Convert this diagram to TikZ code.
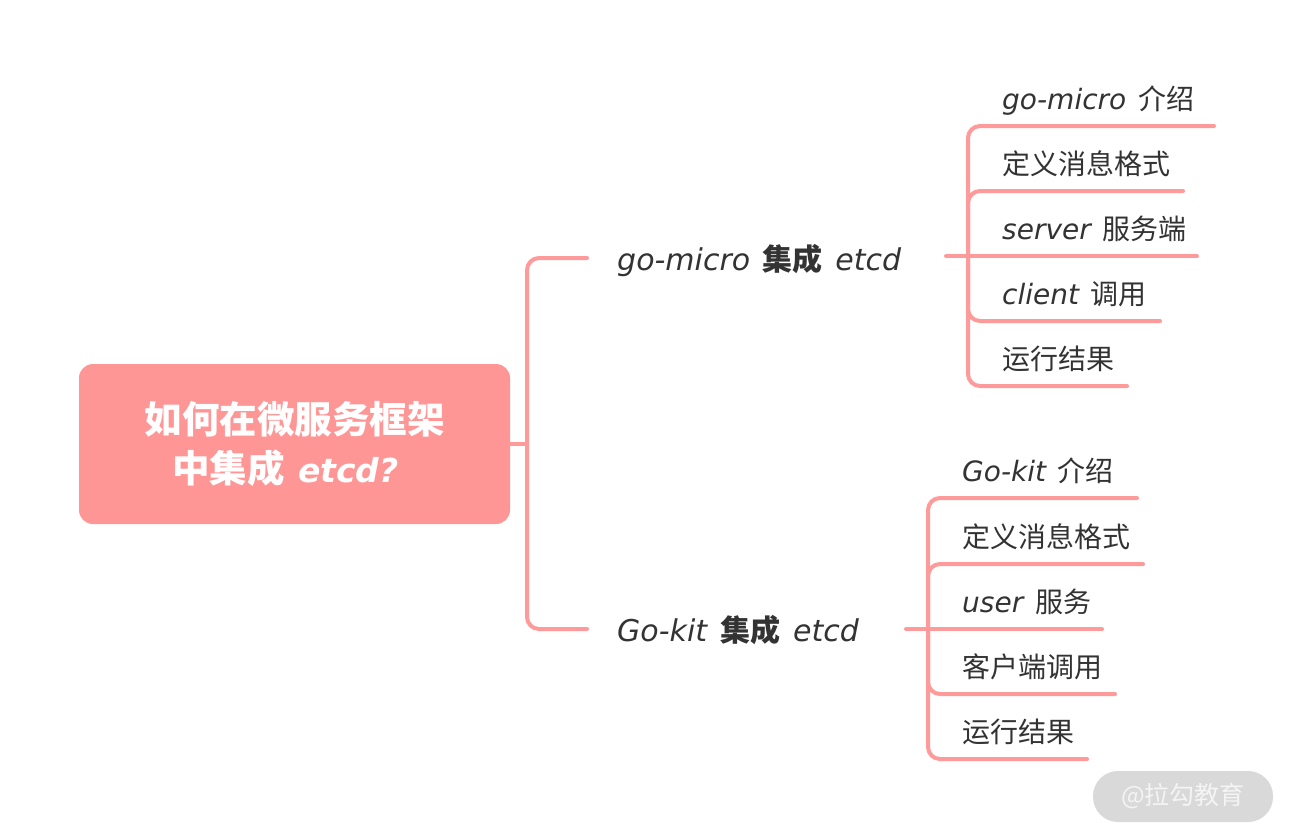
\documentclass[tikz,border=0pt]{standalone}
\usepackage{fontspec}
\setmainfont{Noto Sans CJK SC}
\newfontfamily\handfont{DejaVu Sans}
\newcommand{\la}[1]{{\handfont\itshape #1}}
\newcommand{\gap}{\hspace{0.42em}}
\definecolor{linec}{HTML}{FF9A9A}
\definecolor{rootc}{HTML}{FF9696}
\definecolor{txt}{HTML}{333333}
\definecolor{wmc}{HTML}{D9D9D9}
\definecolor{wmtext}{HTML}{F4F4F4}
\tikzset{
  conn/.style={draw=linec, line width=4pt, line cap=round, rounded corners=12pt},
  rootbox/.style={rectangle, rounded corners=14pt, fill=rootc, minimum width=431pt,
    minimum height=160pt, text=white, align=center, inner sep=0pt,
    font=\bfseries\fontsize{37.5}{49}\selectfont},
  branch/.style={anchor=base west, inner sep=0pt, text=txt, font=\fontsize{30}{36}\selectfont},
  leaf/.style={anchor=base west, inner sep=0pt, text=txt, font=\fontsize{28}{32}\selectfont},
  wmark/.style={rectangle, rounded corners=25pt, fill=wmc, minimum width=180pt,
    minimum height=51pt, inner sep=0pt, text=wmtext, font=\fontsize{25}{30}\selectfont}
}
\begin{document}
\begin{tikzpicture}[x=1pt,y=-1pt]
\useasboundingbox[fill=white] (0,0) rectangle (1292,839);

% root
\node[rootbox] (root) at (294.5,444) {如何在微服务框架\\中集成\hspace{0.35em}{\fontsize{33}{49}\selectfont\la{etcd?}}\hspace*{18pt}};

% main branches
\coordinate (j0) at (527,444);
\coordinate (b1s) at (587,258);
\coordinate (b2s) at (587,629);
\node[branch] (b1) at (617,270) {\la{go-micro}\gap\textbf{集成}\gap\la{etcd}};
\node[branch] (b2) at (617,641) {\la{Go-kit}\gap\textbf{集成}\gap\la{etcd}};
\draw[conn] (root.east) -- (j0);
\draw[conn] (j0) |- (b1s);
\draw[conn] (j0) |- (b2s);

% branch 1 leaves
\coordinate (b1e) at (946,256);
\coordinate (v1) at (968,256);
\coordinate (u11) at (1214,126);
\coordinate (u12) at (1183,191);
\coordinate (u13) at (1197,256);
\coordinate (u14) at (1160,321);
\coordinate (u15) at (1127,386);
\draw[conn] (b1e) -- (u13);
\draw[conn] (v1) |- (u11);
\draw[conn] (v1) |- (u12);
\draw[conn] (v1) |- (u14);
\draw[conn] (v1) |- (u15);
\node[leaf] (l11) at (1002,109) {\la{go-micro}\gap 介绍};
\node[leaf] (l12) at (1002,174) {定义消息格式};
\node[leaf] (l13) at (1002,239) {\la{server}\gap 服务端};
\node[leaf] (l14) at (1002,304) {\la{client}\gap 调用};
\node[leaf] (l15) at (1002,369) {运行结果};

% branch 2 leaves
\coordinate (b2e) at (906,629);
\coordinate (v2) at (928,629);
\coordinate (u21) at (1137,498);
\coordinate (u22) at (1143,564);
\coordinate (u23) at (1102,629);
\coordinate (u24) at (1115,694);
\coordinate (u25) at (1087,759);
\draw[conn] (b2e) -- (u23);
\draw[conn] (v2) |- (u21);
\draw[conn] (v2) |- (u22);
\draw[conn] (v2) |- (u24);
\draw[conn] (v2) |- (u25);
\node[leaf] (l21) at (962,481) {\la{Go-kit}\gap 介绍};
\node[leaf] (l22) at (962,547) {定义消息格式};
\node[leaf] (l23) at (962,612) {\la{user}\gap 服务};
\node[leaf] (l24) at (962,677) {客户端调用};
\node[leaf] (l25) at (962,742) {运行结果};

% watermark
\node[wmark] (wm) at (1183,796.5) {@拉勾教育};
\end{tikzpicture}
\end{document}
